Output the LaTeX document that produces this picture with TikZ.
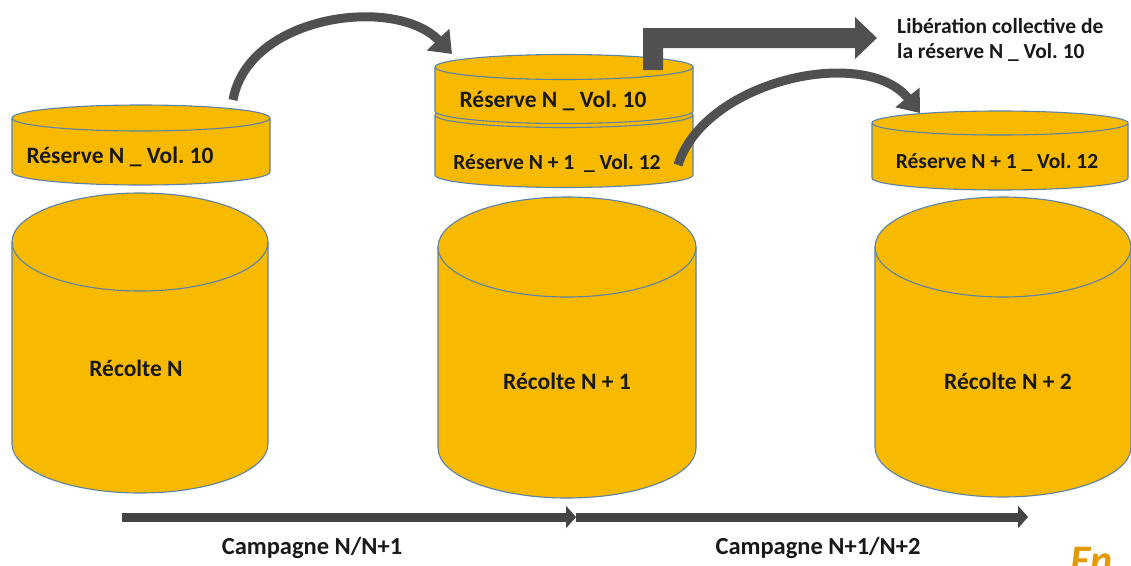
\documentclass[tikz,border=0pt]{standalone}
\usepackage{fontspec}
\setmainfont{Carlito}
\usetikzlibrary{arrows.meta}
\frenchspacing
\definecolor{gold}{HTML}{F8BA00}
\definecolor{rim}{HTML}{5B82A8}
\definecolor{arrowgray}{HTML}{505050}
\definecolor{orangetxt}{HTML}{E49A00}
\tikzset{
  cylfill/.style={fill=gold},
  cylline/.style={draw=rim, line width=1.1pt},
  lbl/.style={font=\bfseries\fontsize{23.5}{27}\selectfont, text=black!90, inner sep=0pt},
  lblsmall/.style={font=\bfseries\fontsize{21.5}{25}\selectfont, text=black!90, inner sep=0pt},
  curvearrow/.style={draw=arrowgray, line width=9pt, -{Triangle[length=20pt,width=30pt]}},
  timearrow/.style={draw=arrowgray!85!black, line width=9pt, -{Triangle[length=10pt,width=22pt]}},
}
% drum: left x, right x, top centre y, bottom centre y, vertical radius
\newcommand\drum[5]{%
  \pgfmathsetmacro\drx{(#2-#1)/2}%
  \pgfmathsetmacro\dcx{(#1+#2)/2}%
  \fill[gold] (#1,#3) -- (#1,#4) arc[start angle=180,end angle=0,x radius=\drx pt,y radius=#5pt]
     -- (#2,#3) arc[start angle=0,end angle=-180,x radius=\drx pt,y radius=#5pt] -- cycle;
  \draw[cylline] (#1,#3) -- (#1,#4) arc[start angle=180,end angle=0,x radius=\drx pt,y radius=#5pt] -- (#2,#3);
  \draw[cylline] (\dcx,#3) ellipse[x radius=\drx pt,y radius=#5pt];
}
\begin{document}
\begin{tikzpicture}[x=1pt,y=1pt,yscale=-1]
\useasboundingbox (0,0) rectangle (1131,565);
\clip (0,0) rectangle (1131,565);
\fill[white] (0,0) rectangle (1131,565);

% harvest drums
\drum{12}{268}{242}{444}{49}
\drum{438}{696}{247}{448}{50}
\drum{875}{1131}{247}{447}{50}

% reserve drums
\drum{12}{270}{118}{172}{13}
\drum{435}{693}{115}{175}{12.5}
\drum{435}{693}{67}{111}{12.5}
\drum{872}{1128}{123}{178}{12}

% labels
\node[lbl] (recN)  at (136,368) {Récolte N};
\node[lbl] (recN1) at (567,381) {Récolte N + 1};
\node[lbl] (recN2) at (1008,381) {Récolte N + 2};
\node[lbl] (resL)  at (120,157) {Réserve N \_ Vol. 10};
\node[lbl] (resMa) at (553,101) {Réserve N \_ Vol. 10};
\node[lblsmall] (resMb) at (557,163) {Réserve N + 1 \ \_ Vol. 12};
\node[lblsmall] (resR) at (997,162) {Réserve N + 1 \_ Vol. 12};
\node[anchor=west, align=left, inner sep=0pt, text=black!90, font=\bfseries\fontsize{21.5}{25}\selectfont] (lib) at (897,40)
  {Libération collective de\\la réserve N \_ Vol. 10};

% transfer arrows between reserves
\coordinate (a1s) at (233,100);
\coordinate (a1e) at (452,54);
\draw[curvearrow] (a1s) .. controls (248,15) and (395,-5) .. (a1e);
\coordinate (a2s) at (678,165);
\coordinate (a2e) at (920,113);
\draw[curvearrow] (a2s) .. controls (705,80) and (865,45) .. (a2e);

% release arrow
\fill[arrowgray] (643,70) -- (643,28) -- (855,28) -- (855,17) -- (877,38) -- (855,59)
   -- (855,48) -- (663,48) -- (663,70) -- cycle;

% campaign timeline
\coordinate (t0) at (122,517);
\coordinate (t1) at (576,517);
\coordinate (t2) at (1028,517);
\draw[timearrow] (t1) -- (t2);
\draw[timearrow] (t0) -- (t1);
\node[lbl, font=\bfseries\fontsize{24.5}{28}\selectfont] (c1) at (312,548) {Campagne N/N+1};
\node[lbl, font=\bfseries\fontsize{24.5}{28}\selectfont] (c2) at (818,548) {Campagne N+1/N+2};

% heading running off the lower edge
\node[anchor=base west, inner sep=0pt, text=orangetxt, font=\bfseries\itshape\fontsize{42}{46}\selectfont] (en) at (1070,574) {En};
\end{tikzpicture}
\end{document}
